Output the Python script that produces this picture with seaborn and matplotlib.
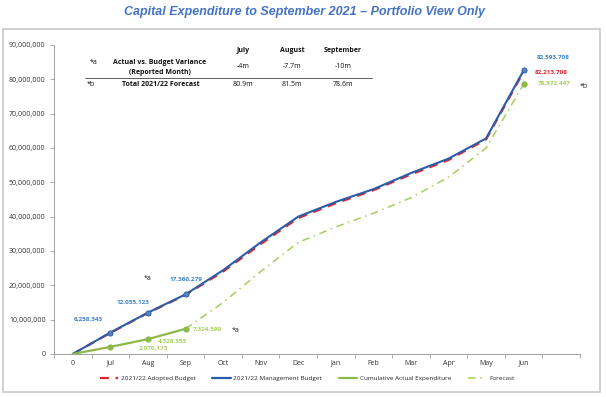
import matplotlib
matplotlib.use("Agg")
import matplotlib.pyplot as plt
import matplotlib.patches as mpatches
from matplotlib.lines import Line2D
from matplotlib.ticker import FuncFormatter, FixedLocator
import seaborn as sns
import pandas as pd
import numpy as np

months = ['0', 'Jul', 'Aug', 'Sep', 'Oct', 'Nov', 'Dec', 'Jan', 'Feb', 'Mar', 'Apr', 'May', 'Jun']
adopted_budget = [0, 6150000, 11950000, 17200000, 24000000, 32000000, 39600000, 43900000, 47700000, 52300000, 56500000, 62500000, 82213708]
management_budget = [0, 6258343, 12055123, 17360279, 24400000, 32500000, 40000000, 44300000, 48000000, 52700000, 56900000, 62800000, 82593708]
actual_months = ['0', 'Jul', 'Aug', 'Sep']
cumulative_actual = [0, 2070173, 4328553, 7324599]
forecast_months = ['Sep', 'Oct', 'Nov', 'Dec', 'Jan', 'Feb', 'Mar', 'Apr', 'May', 'Jun']
forecast = [7324599, 15000000, 24000000, 32500000, 37000000, 41000000, 45500000, 51500000, 60000000, 78572447]

table_cols = ['July', 'August', 'September']
variance = ['-4m', '-7.7m', '-10m']
total_forecast = ['80.9m', '81.5m', '78.6m']

pos = {m: i for i, m in enumerate(months)}

C_RED = '#E3262E'
C_BLUE = '#2A5CA8'
C_BLUE_LBL = '#3C82C8'
C_GREEN = '#8DB84A'
C_FC = '#A6CF5A'

sns.set_theme(style='white')
plt.rcParams['font.family'] = ['Open Sans', 'DejaVu Sans']

fig = plt.figure(figsize=(6.06, 3.97), dpi=100)
ax = fig.add_axes([54/606, 43/397, (580-54)/606, (354-45)/397])

df_b = pd.DataFrame({'x': [pos[m] for m in months], 'adopted': adopted_budget, 'mgmt': management_budget})
df_a = pd.DataFrame({'x': [pos[m] for m in actual_months], 'v': cumulative_actual})
df_f = pd.DataFrame({'x': [pos[m] for m in forecast_months], 'v': forecast})

FC_DASH = (0, (5, 3, 1, 3))
RED_DASH = (0, (4, 3))
sns.lineplot(data=df_f, x='x', y='v', ax=ax, color=C_FC, lw=1.1, linestyle=FC_DASH)
sns.lineplot(data=df_b, x='x', y='adopted', ax=ax, color=C_RED, lw=1.6, linestyle=RED_DASH)
sns.lineplot(data=df_b, x='x', y='mgmt', ax=ax, color=C_BLUE, lw=1.5)
sns.lineplot(data=df_a, x='x', y='v', ax=ax, color=C_GREEN, lw=1.6)

# markers
mk_idx = [1, 2, 3, 12]
ax.scatter([df_b.x[i] for i in mk_idx], [management_budget[i] for i in mk_idx], s=14,
           color='#5B7FC0', zorder=5, edgecolor=C_BLUE, lw=0.6)
ax.scatter(df_a.x[1:], cumulative_actual[1:], s=12, color=C_GREEN, zorder=5)
ax.scatter([pos['Jun']], [forecast[-1]], s=12, color=C_GREEN, zorder=5)

ax.set_xlim(-0.5, 13.5)
ax.set_ylim(0, 90000000)
ax.set_xticks(range(len(months)))
ax.set_xticklabels(months)
ax.xaxis.set_minor_locator(FixedLocator(np.arange(-0.5, 13.6, 1)))
ax.tick_params(axis='x', which='major', length=0, labelsize=5, colors='#333333', pad=4)
ax.tick_params(axis='x', which='minor', length=3, color='#A0A0A0', width=0.6, direction='out', bottom=True)
ax.set_yticks(np.arange(0, 90000001, 10000000))
ax.yaxis.set_major_formatter(FuncFormatter(lambda v, p: f'{int(v):,}'))
ax.tick_params(axis='y', length=3, color='#A0A0A0', width=0.6, labelsize=5, labelcolor='#333333', left=True, pad=3)
ax.set_xlabel('')
ax.set_ylabel('')
for s in ['top', 'right']:
    ax.spines[s].set_visible(False)
for s in ['left', 'bottom']:
    ax.spines[s].set_color('#A0A0A0')
    ax.spines[s].set_linewidth(0.7)

# data labels (offsets in pixels)
lblkw = dict(fontsize=4.6, fontweight='bold', ha='center', va='center', textcoords='offset pixels')
ax.annotate(f'{management_budget[1]:,}', (pos['Jul'], management_budget[1]), xytext=(-22, 13), color=C_BLUE_LBL, **lblkw)
ax.annotate(f'{management_budget[2]:,}', (pos['Aug'], management_budget[2]), xytext=(-15, 10), color=C_BLUE_LBL, **lblkw)
ax.annotate(f'{management_budget[3]:,}', (pos['Sep'], management_budget[3]), xytext=(1, 15), color=C_BLUE_LBL, **lblkw)
ax.annotate(f'{management_budget[12]:,}', (pos['Jun'], management_budget[12]), xytext=(30, 13), color=C_BLUE_LBL, **lblkw)
ax.annotate(f'{adopted_budget[12]:,}', (pos['Jun'], adopted_budget[12]), xytext=(28, -1), color=C_RED, **lblkw)
ax.annotate(f'{forecast[-1]:,}', (pos['Jun'], forecast[-1]), xytext=(30, 1), color=C_FC, **lblkw)
ax.annotate(f'{cumulative_actual[1]:,}', (pos['Jul'], cumulative_actual[1]), xytext=(43, -1), color=C_FC, **lblkw)
ax.annotate(f'{cumulative_actual[2]:,}', (pos['Aug'], cumulative_actual[2]), xytext=(25, -2), color=C_FC, **lblkw)
ax.annotate(f'{cumulative_actual[3]:,}', (pos['Sep'], cumulative_actual[3]), xytext=(22, 0), color=C_FC, **lblkw)

starkw = dict(fontsize=5, color='#222222', ha='center', va='center')
fig.text(148/606, 1-278/397, '*a', **starkw)
fig.text(236/606, 1-331/397, '*a', **starkw)
fig.text(584/606, 1-86/397, '*b', **starkw)

# table
tk = dict(fontsize=5, ha='center', va='center', color='#111111')
colx = [243, 292, 343]
for x, c, v, t in zip(colx, table_cols, variance, total_forecast):
    fig.text(x/606, 1-51/397, c, fontweight='bold', **tk)
    fig.text(x/606, 1-67/397, v, **tk)
    fig.text(x/606, 1-85/397, t, **tk)
fig.text(94/606, 1-62/397, '*a', **tk)
fig.text(91/606, 1-85/397, '*b', **tk)
fig.text(160/606, 1-62/397, 'Actual vs. Budget Variance', fontweight='bold', **tk)
fig.text(160/606, 1-73/397, '(Reported Month)', fontweight='bold', **tk)
fig.text(161/606, 1-85/397, 'Total 2021/22 Forecast', fontweight='bold', **tk)
fig.add_artist(Line2D([85/606, 372/606], [1-78/397, 1-78/397], color='#444444', lw=0.6))

# title
fig.text(304/606, 1-12/397, 'Capital Expenditure to September 2021 \u2013 Portfolio View Only',
         fontsize=9, fontweight='bold', fontstyle='italic', color='#4472C4', ha='center', va='center',
         family=['Liberation Sans', 'DejaVu Sans'])

# frame
fig.add_artist(mpatches.Rectangle((3/606, 1-392/397), 597/606, (392-29)/397, fill=False,
                                  edgecolor='#C8C8C8', lw=1.2, transform=fig.transFigure))

# legend
handles = [
    Line2D([], [], color=C_RED, lw=1.6, linestyle=RED_DASH),
    Line2D([], [], color=C_BLUE, lw=1.6),
    Line2D([], [], color=C_GREEN, lw=1.6),
    Line2D([], [], color=C_FC, lw=1.1, linestyle=FC_DASH),
]
labels = ['2021/22 Adopted Budget', '2021/22 Management Budget', 'Cumulative Actual Expenditure', 'Forecast']
fig.legend(handles, labels, loc='center', bbox_to_anchor=(307/606, 1-378/397), ncol=4, frameon=False,
           fontsize=4.6, handlelength=2.9, columnspacing=2.6, handletextpad=0.4)

fig.savefig('out.png', dpi=100)
